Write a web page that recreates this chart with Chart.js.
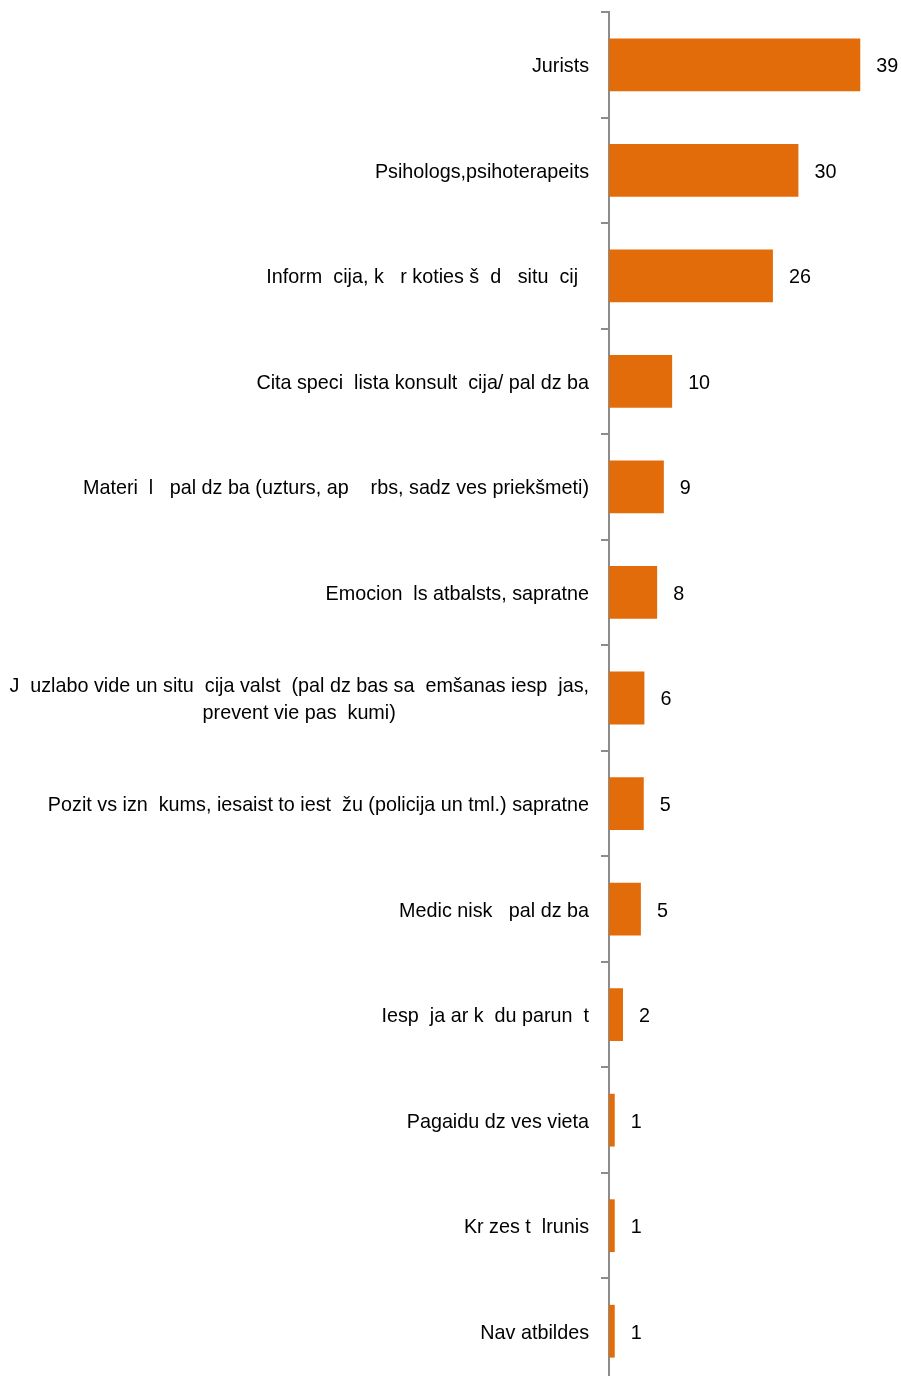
<!DOCTYPE html>
<html>
<head>
<meta charset="utf-8">
<script src="https://cdn.jsdelivr.net/npm/chart.js@4/dist/chart.umd.min.js"></script>
<style>
html,body{margin:0;padding:0;overflow:hidden;background:#fff;width:901px;height:1376px}
#wrap{position:relative;width:901px;height:1384px}
</style>
</head>
<body>
<div id="wrap"><canvas id="c"></canvas></div>
<script>
const categories = [
  "Jurists",
  "Psihologs,psihoterapeits",
  "Inform  cija, k   r koties š  d   situ  cij  ",
  "Cita speci  lista konsult  cija/ pal dz ba",
  "Materi  l   pal dz ba (uzturs, ap    rbs, sadz ves priekšmeti)",
  "Emocion  ls atbalsts, sapratne",
  ["J  uzlabo vide un situ  cija valst  (pal dz bas sa  emšanas iesp  jas,", "prevent vie pas  kumi)"],
  "Pozit vs izn  kums, iesaist to iest  žu (policija un tml.) sapratne",
  "Medic nisk   pal dz ba",
  "Iesp  ja ar k  du parun  t",
  "Pagaidu dz ves vieta",
  "Kr zes t  lrunis",
  "Nav atbildes"
];
const values = [39.4, 29.7, 25.7, 9.9, 8.6, 7.55, 5.55, 5.45, 5.0, 2.2, 0.9, 0.9, 0.9];

const FONT = '19.75px "Liberation Sans", Arial, sans-serif';
const LINE_H = 27;
const TEXT_DY = 2;

const labelPlugin = {
  id: 'customLabels',
  afterDraw(chart) {
    const ctx = chart.ctx;
    const ys = chart.scales.y;
    ctx.save();
    ctx.font = FONT;
    ctx.fillStyle = '#000';
    ctx.textBaseline = 'middle';
    const right = ys.right - 8 - 12;
    categories.forEach((lab, i) => {
      const lines = Array.isArray(lab) ? lab : [lab];
      const y = ys.getPixelForTick(i) + TEXT_DY;
      const w = Math.max(...lines.map(l => ctx.measureText(l).width));
      const cx = right - w / 2;
      ctx.textAlign = 'center';
      lines.forEach((l, k) => ctx.fillText(l, cx, y + (k - (lines.length - 1) / 2) * LINE_H));
    });
    const meta = chart.getDatasetMeta(0);
    ctx.textAlign = 'left';
    meta.data.forEach((bar, i) => {
      ctx.fillText(String(Math.round(values[i])), bar.x + 16, bar.y + TEXT_DY);
    });
    ctx.restore();
  }
};

new Chart(document.getElementById('c'), {
  type: 'bar',
  data: {
    labels: categories,
    datasets: [{
      data: values,
      backgroundColor: '#E36C0A',
      borderWidth: 0,
      barPercentage: 0.5,
      categoryPercentage: 1.0
    }]
  },
  options: {
    indexAxis: 'y',
    responsive: true,
    maintainAspectRatio: false,
    devicePixelRatio: 1,
    animation: false,
    layout: { padding: { top: 12, right: 5, bottom: 0, left: 0 } },
    plugins: { legend: { display: false }, tooltip: { enabled: false } },
    scales: {
      x: { display: false, min: 0, max: 45 },
      y: {
        position: 'left',
        grid: { display: true, drawOnChartArea: false, drawTicks: true, tickLength: 8, color: '#8c8c8c', lineWidth: 2, offset: true },
        border: { display: true, color: '#8c8c8c', width: 2 },
        ticks: { display: false },
        afterFit(scale) { scale.width = 609; }
      }
    }
  },
  plugins: [labelPlugin]
});
</script>
</body>
</html>
